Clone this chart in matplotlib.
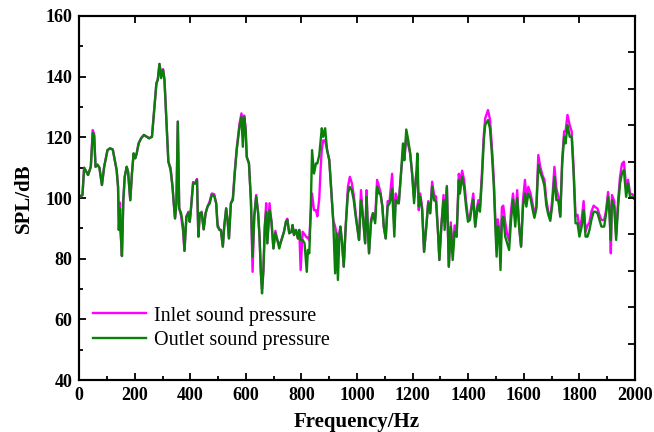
import matplotlib
matplotlib.use("Agg")
import matplotlib.pyplot as plt
from matplotlib.ticker import MultipleLocator

plt.rcParams["font.family"] = ["Liberation Serif", "DejaVu Serif"]

# frequency grid (Hz)
freq = [
    0, 5, 12, 18, 26, 32, 42, 49, 54, 59, 66, 73, 82, 90, 102, 111, 121, 128, 135, 140,
    143, 147, 149, 154, 159, 164, 171, 176, 184, 190, 196, 202, 207, 214, 223, 233, 243, 252, 262, 271,
    278, 283, 289, 295, 302, 307, 314, 321, 329, 336, 340, 345, 350, 355, 360, 367, 374, 379, 386, 393,
    398, 403, 410, 417, 424, 429, 434, 441, 448, 455, 462, 470, 477, 486, 493, 498, 505, 510, 517, 522,
    529, 534, 539, 546, 553, 560, 567, 577, 584, 589, 594, 599, 603, 611, 618, 624, 630, 637, 644, 649,
    654, 658, 663, 668, 673, 677, 685, 692, 699, 706, 713, 720, 728, 737, 744, 749, 756, 764, 768, 773,
    780, 787, 792, 797, 804, 811, 819, 823, 828, 833, 838, 845, 852, 857, 864, 869, 873, 878, 885, 892,
    900, 907, 914, 921, 926, 931, 936, 940, 945, 952, 959, 967, 974, 981, 988, 995, 1002, 1007, 1014, 1021,
    1029, 1034, 1038, 1043, 1050, 1057, 1065, 1072, 1079, 1084, 1091, 1096, 1103, 1110, 1117, 1122, 1126, 1134, 1139, 1146,
    1150, 1158, 1165, 1170, 1177, 1184, 1191, 1198, 1205, 1213, 1217, 1222, 1227, 1234, 1241, 1249, 1256, 1263, 1270, 1277,
    1284, 1292, 1296, 1303, 1311, 1315, 1323, 1330, 1337, 1344, 1351, 1358, 1366, 1370, 1378, 1385, 1392, 1399, 1406, 1413,
    1418, 1425, 1432, 1436, 1442, 1449, 1456, 1461, 1471, 1478, 1485, 1492, 1497, 1502, 1506, 1511, 1516, 1521, 1526, 1533,
    1540, 1547, 1554, 1561, 1569, 1576, 1583, 1590, 1597, 1604, 1609, 1616, 1624, 1631, 1638, 1645, 1652, 1659, 1667, 1674,
    1681, 1688, 1695, 1702, 1710, 1717, 1724, 1731, 1738, 1745, 1750, 1757, 1765, 1772, 1779, 1786, 1793, 1800, 1808, 1815,
    1822, 1829, 1836, 1843, 1851, 1858, 1865, 1872, 1879, 1889, 1896, 1903, 1908, 1913, 1917, 1925, 1932, 1939, 1946, 1953,
    1960, 1968, 1975, 1982, 1989, 2000,
]

outlet = [
    101, 100.5, 101, 110, 108.7, 107.6, 110.3, 121.5, 120.5, 110.3, 111, 110, 104.3, 110.3, 115.8, 116.4, 116, 112.5, 109.2, 103.7,
    89.5, 96.5, 89.5, 80.9, 99.3, 107, 110.3, 108.7, 99.3, 108.1, 114.7, 113.1, 114.7, 118, 119.7, 120.8, 120.2, 119.7, 120.2, 130.1,
    137.8, 139, 144.2, 139.5, 142.2, 139, 125.7, 112, 109.2, 103.7, 98.8, 93.3, 98.3, 125.2, 96.6, 95, 90.6, 82.6, 93.9, 95,
    92.2, 97.2, 104.8, 104.8, 106, 87.3, 95, 95, 89.7, 95, 97.2, 98.3, 101, 100.7, 98.3, 90.6, 89.5, 89.5, 84, 90.6,
    96.6, 92.8, 86.7, 98.3, 99.3, 108.1, 115.8, 123.5, 126.8, 116.9, 126.6, 122.4, 113.6, 111.4, 99.3, 80.7, 93.9, 100.5, 95, 87.3,
    75.2, 68.6, 76.3, 90.6, 95.5, 85.1, 96, 92.2, 83.4, 88.4, 86.2, 83.4, 86.2, 88.9, 92.2, 92.8, 88.4, 88.9, 91.1, 87.8,
    89.5, 86.7, 89.5, 86.2, 86.2, 85.1, 75.7, 82.9, 81.8, 95, 115.8, 108.1, 111.4, 111.4, 114.2, 119.1, 123, 120.2, 123, 115.8,
    112.5, 102.6, 92.8, 75.2, 88.4, 73, 86.2, 90.6, 86.2, 77.4, 90.6, 101.5, 103.7, 102.6, 99.3, 93.9, 89.5, 86.2, 99.3, 93.9,
    85.1, 100.4, 91.7, 81.8, 91.7, 95, 91.7, 103.7, 101.5, 101.5, 97.2, 90.6, 86.7, 97.2, 98.3, 100.4, 103, 87.3, 99.3, 98.3,
    98.3, 108.1, 118, 112.5, 122.6, 119.1, 114.7, 108.1, 98.3, 108.1, 114.7, 97.2, 100.4, 96.1, 82.3, 90.6, 98.3, 95, 103.7, 99.3,
    98.8, 87.3, 79.6, 90.6, 99.3, 89.5, 103.7, 77.4, 90.6, 79.6, 88.9, 87.3, 106, 101.5, 107, 103.7, 97.2, 92.2, 92.8, 97.2,
    99.5, 90.6, 96.1, 98, 95.5, 106, 119.1, 124.1, 125.7, 123, 114.7, 103.7, 91.7, 80.7, 90.6, 88.4, 76.3, 92.8, 93.9, 87.3,
    85.1, 82.9, 92.8, 99.5, 90.6, 100, 90.6, 84, 97.2, 101.5, 97.2, 101.5, 100, 96.5, 93.5, 96.5, 110.9, 108.5, 106.5, 104,
    97.5, 94.5, 92.5, 97.5, 107, 99.3, 99.3, 93.9, 111.4, 120.2, 118, 124.1, 120.2, 120.2, 108.1, 91.7, 91.7, 87.3, 90.6, 96,
    87.3, 87.3, 89.5, 92.8, 95.5, 95.5, 95, 92.8, 90.6, 90.6, 95, 100.4, 95, 86.2, 99.3, 97.2, 86.2, 97.2, 104.8, 108.1,
    109.2, 100.4, 104.8, 100.4, 100.4, 99.5,
]

inlet = [
    101, 100.5, 101, 110, 108.7, 107.6, 110.3, 122.4, 121, 110.3, 111, 110, 104.3, 110.3, 115.8, 116.4, 116, 112.5, 109.2, 103.7,
    89.5, 98.5, 89.5, 80.9, 99.3, 107, 110.3, 108.7, 99.3, 108.1, 114.7, 113.1, 114.7, 118, 119.7, 120.8, 120.2, 119.7, 120.2, 130.1,
    137.8, 139, 144.2, 141, 142.5, 139, 125.7, 112, 110, 103.7, 98.8, 93.3, 98.3, 125.2, 96.6, 94, 89, 82.6, 93.9, 95.5,
    92.2, 97.2, 105.3, 104.8, 106.3, 87.3, 95, 95.5, 89.7, 95, 97.2, 99, 101.5, 101.3, 98.3, 91.5, 89.5, 89.5, 84, 90.6,
    96.6, 92.8, 86.7, 98.3, 100, 109, 116.5, 124.5, 127.9, 125, 127.2, 123, 113.6, 111.4, 99.3, 75.7, 93.9, 101, 95, 87.3,
    75.2, 70, 76.3, 90.6, 98.3, 85.1, 98.3, 92.2, 83.4, 89.2, 86.2, 84.5, 86.2, 88.9, 92.2, 93.2, 88.4, 88.9, 91.1, 87.8,
    89.5, 86.7, 89.5, 76.3, 88.9, 88, 87, 87, 86, 95, 101.5, 96, 96, 94, 100, 110, 116, 119, 119, 116,
    112.5, 102.6, 92.8, 90.6, 88.4, 85, 88.5, 90.6, 86.2, 77.4, 90.6, 103.7, 107, 105, 101, 95, 89.5, 86.2, 102.6, 93.9,
    85.1, 102.6, 91.7, 81.8, 93, 95, 93, 106, 103.7, 102, 97.2, 90.6, 86.7, 99, 99, 104, 108, 90, 101.5, 99.5,
    98.3, 108.1, 115, 112.5, 120, 117.5, 114.7, 108.1, 100, 108.1, 108, 96, 101.5, 97, 82.3, 90.6, 99, 95, 105.4, 101,
    100.5, 87.3, 79.6, 90.6, 101, 92, 104, 77.4, 92, 82, 91, 87.3, 108, 105, 109, 106, 99, 93.5, 94, 98.5,
    101.5, 90.6, 97, 99.3, 97, 108, 121, 126.3, 129, 126, 117, 106, 94, 83, 93, 90, 82, 97, 97.5, 92,
    88, 86, 96, 101.5, 93, 102.6, 90.6, 84, 99.5, 106, 100, 103.7, 101.5, 98.3, 95, 97.2, 114.2, 110.3, 107.5, 106,
    99.3, 95.5, 93.3, 99.3, 110.3, 103.2, 100.5, 93.9, 113, 122, 122, 127.4, 124, 122, 110, 94, 94.5, 90, 93, 99,
    89, 91, 92, 95.5, 97.5, 97, 96.5, 94.5, 92.8, 92.8, 96, 102, 97, 81.8, 101, 99, 88, 99, 107, 111.3,
    112, 103.7, 106, 101.5, 101.3, 100.5,
]

fig = plt.figure(figsize=(6.54, 4.32), dpi=100)
ax = fig.add_axes([0.121, 0.120, 0.850, 0.843])

ax.plot(freq, inlet, color="#FF00FF", lw=1.7, label="Inlet sound pressure")
ax.plot(freq, outlet, color="#0A800A", lw=1.7, label="Outlet sound pressure")

ax.set_xlim(0, 2000)
ax.set_ylim(40, 160)
ax.xaxis.set_major_locator(MultipleLocator(200))
ax.xaxis.set_minor_locator(MultipleLocator(100))
ax.yaxis.set_major_locator(MultipleLocator(20))
ax.yaxis.set_minor_locator(MultipleLocator(10))

ax.tick_params(which="both", direction="in", top=True, right=False, width=1.3)
ax.tick_params(which="major", length=5, labelsize=13, pad=5)
ax.tick_params(which="minor", length=3, top=False)
for lab in ax.get_xticklabels() + ax.get_yticklabels():
    lab.set_fontweight("bold")

# unlabelled right-hand scale with ten divisions
ax2 = ax.twinx()
ax2.set_ylim(0, 10)
ax2.yaxis.set_major_locator(MultipleLocator(1))
ax2.tick_params(direction="in", length=5, width=1.3, labelright=False)

for a in (ax, ax2):
    for s in a.spines.values():
        s.set_linewidth(1.5)

ax.set_xlabel("Frequency/Hz", fontsize=15, fontweight="bold", labelpad=6)
ax.set_ylabel("SPL/dB", fontsize=15, fontweight="bold", labelpad=8)

ax.legend(loc="lower left", bbox_to_anchor=(0.0, 0.045), frameon=False, fontsize=14.5,
          handlelength=2.6, handletextpad=0.4, labelspacing=0.25, borderaxespad=0.3)

fig.savefig("out.png", dpi=100)
